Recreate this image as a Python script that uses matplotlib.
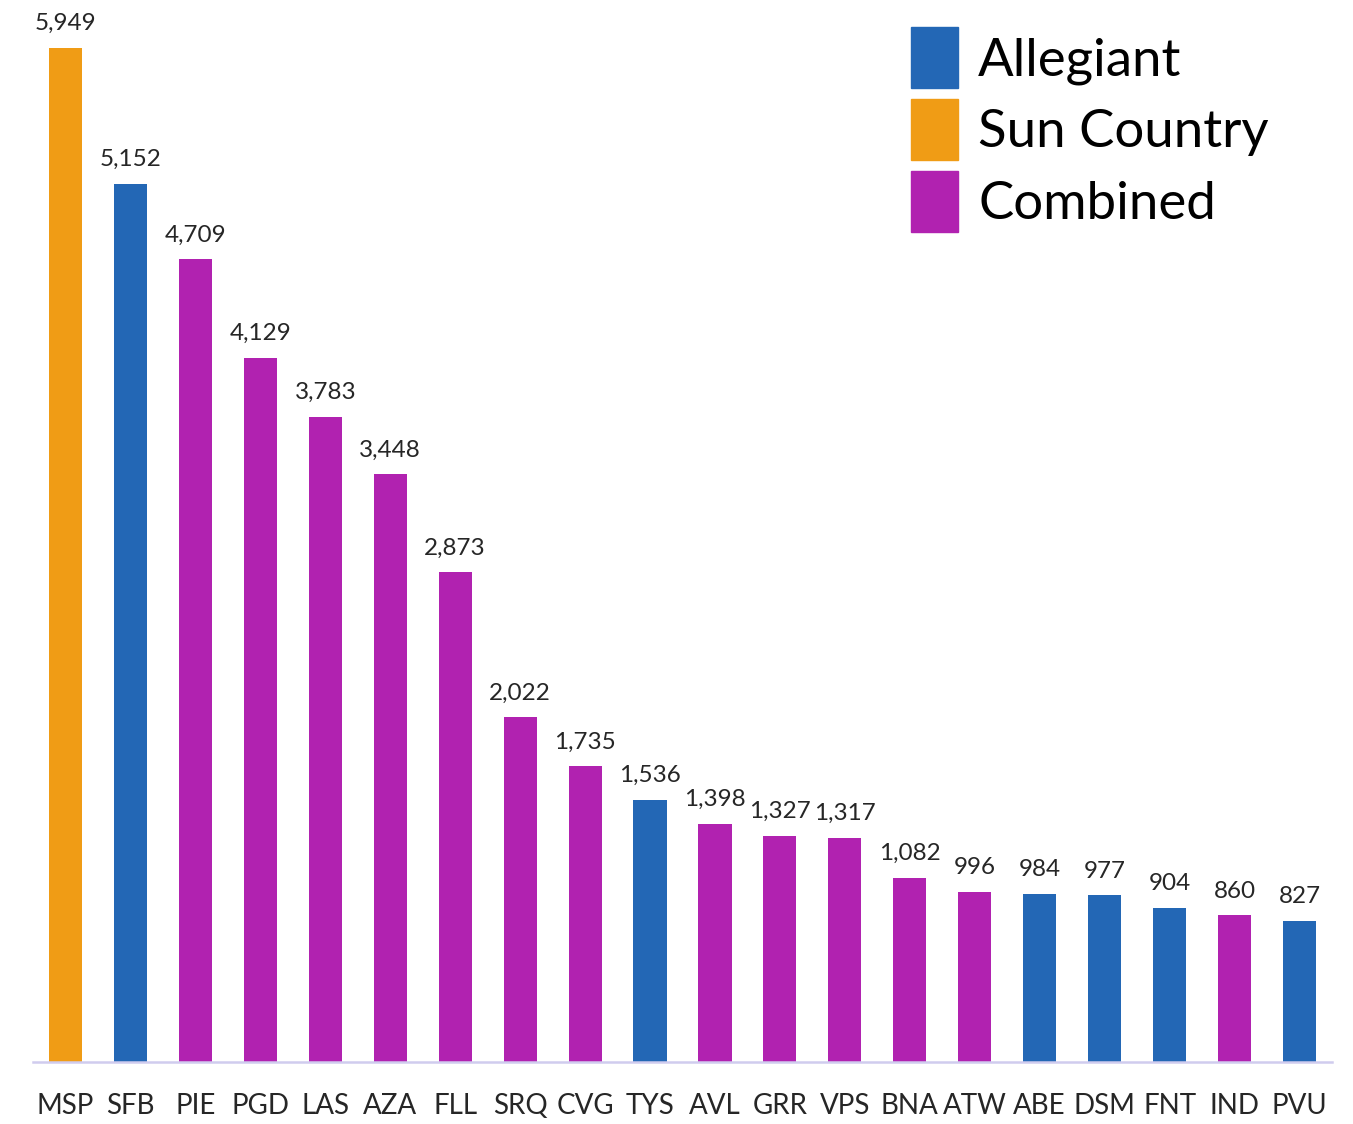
import matplotlib
matplotlib.use("Agg")
import matplotlib.pyplot as plt
from matplotlib.patches import Patch

plt.rcParams["font.family"] = ["Lato", "DejaVu Sans"]

airports = ["MSP", "SFB", "PIE", "PGD", "LAS", "AZA", "FLL", "SRQ", "CVG", "TYS",
            "AVL", "GRR", "VPS", "BNA", "ATW", "ABE", "DSM", "FNT", "IND", "PVU"]
flights = [5949, 5152, 4709, 4129, 3783, 3448, 2873, 2022, 1735, 1536,
           1398, 1327, 1317, 1082, 996, 984, 977, 904, 860, 827]
carrier = ["Sun Country", "Allegiant", "Combined", "Combined", "Combined", "Combined",
           "Combined", "Combined", "Combined", "Allegiant", "Combined", "Combined",
           "Combined", "Combined", "Combined", "Allegiant", "Allegiant", "Allegiant",
           "Combined", "Allegiant"]

colors = {"Allegiant": "#2367B5", "Sun Country": "#F09C15", "Combined": "#B122B0"}

W, H = 1353, 1124
fig = plt.figure(figsize=(W / 100, H / 100), dpi=100)
ax = fig.add_axes([33 / W, (H - 1062) / H, (1332 - 33) / W, 1062 / H])

x = list(range(len(airports)))
bars = ax.bar(x, flights, width=0.51, color=[colors[c] for c in carrier])

for xi, v in zip(x, flights):
    ax.annotate(f"{v:,}", (xi, v), xytext=(0, 10), textcoords="offset points",
                ha="center", va="bottom", fontsize=17.5, color="#262626")

ax.set_xlim(-0.5, len(airports) - 0.5)
ax.set_ylim(0, 5949 * 1062 / 1014)
ax.set_xticks(x)
ax.set_xticklabels(airports, fontsize=20, color="#262626")
ax.tick_params(axis="x", length=0, pad=22)
ax.set_yticks([])
for s in ["top", "right", "left"]:
    ax.spines[s].set_visible(False)
ax.spines["bottom"].set_color("#D0CCEE")
ax.spines["bottom"].set_linewidth(1.8)

handles = [Patch(color=colors[k]) for k in ["Allegiant", "Sun Country", "Combined"]]
ax.legend(handles, ["Allegiant", "Sun Country", "Combined"], loc="upper left",
          bbox_to_anchor=(911 / W, 1 - 27 / H), bbox_transform=fig.transFigure,
          frameon=False, fontsize=38, borderpad=0, borderaxespad=0,
          handlelength=0.89, handleheight=1.41, handletextpad=0.38, labelspacing=0.2)

fig.savefig("out.png", dpi=100)
